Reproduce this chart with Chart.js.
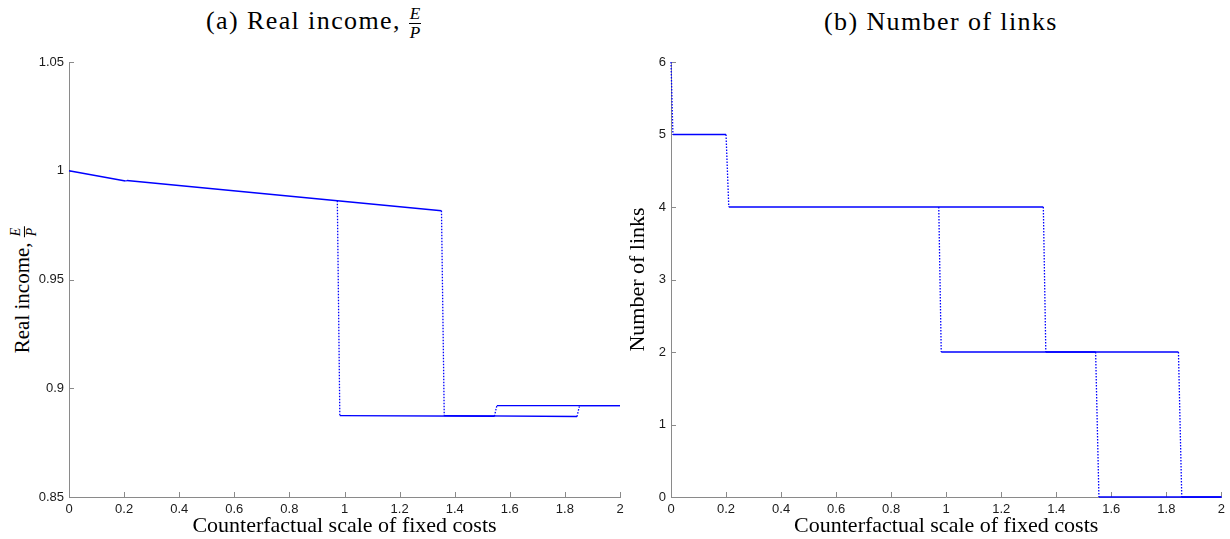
<!DOCTYPE html>
<html>
<head>
<meta charset="utf-8">
<script src="https://cdn.jsdelivr.net/npm/chart.js@4"></script>
<style>
  body { margin: 0; background: #fff; width: 1230px; height: 539px; position: relative; overflow: hidden; font-family: "Liberation Serif", serif; color: #000; }
  .title { position: absolute; top: 5px; font-size: 26px; letter-spacing: 1.4px; white-space: nowrap; }
  .frac { display: inline-flex; flex-direction: column; vertical-align: middle; font-style: italic; text-align: center; line-height: 1.05; font-size: 0.66em; letter-spacing: 0; }
  .frac span:first-child { border-bottom: 1px solid #000; padding: 0 1px; }
  .ytitle { position: absolute; left: 24px; top: 290px; font-size: 21px; white-space: nowrap; transform: translate(-50%, -50%) rotate(-90deg); }
  .box { position: absolute; top: 40px; height: 499px; }
</style>
</head>
<body>
<div class="title" style="left:206px">(a) Real income, <span class="frac"><span>E</span><span>P</span></span></div>
<div class="title" style="left:824px;top:7px">(b) Number of links</div>
<div class="ytitle">Real income, <span class="frac"><span>E</span><span>P</span></span></div>
<div class="box" style="left:0;width:640px"><canvas id="income"></canvas></div>
<div class="box" style="left:625px;width:605px"><canvas id="links"></canvas></div>
<script>
// panel (a): real income, two branches of the path
const incomeScaleA = [0, 0.205, 0.21, 0.974, 1.352, 1.362, 1.844, 1.853, 2];
const incomeA      = [1.0, 0.9953, 0.9955, 0.9862, 0.9816, 0.8874, 0.8870, 0.8920, 0.8920];
const incomeScaleB = [0.974, 0.983, 1.544, 1.553, 2];
const incomeB      = [0.9862, 0.8874, 0.8871, 0.8920, 0.8920];

// panel (b): number of links
const linksScaleA = [0, 0.007, 0.2, 0.21, 1.353, 1.362, 1.844, 1.856, 2];
const linksA      = [6, 5, 5, 4, 4, 2, 2, 0, 0];
const linksScaleB = [0.973, 0.982, 1.543, 1.555, 2];
const linksB      = [4, 2, 2, 0, 0];

const xTicks = [0, 0.2, 0.4, 0.6, 0.8, 1, 1.2, 1.4, 1.6, 1.8, 2];
const incomeTicks = [0.85, 0.9, 0.95, 1, 1.05];
const linksTicks = [0, 1, 2, 3, 4, 5, 6];

const blue = "#0000ff";
const axisGray = "#8a8a8a";
const tickFont = { family: "Liberation Sans", size: 13 };
const labelFont = { family: "Liberation Serif", size: 22 };

const pts = (xs, ys) => xs.map((x, i) => ({ x: x, y: ys[i] }));

// jumps (near vertical pieces) are dotted, the rest solid
const isJump = c => Math.abs(c.p1.parsed.x - c.p0.parsed.x) < 0.02;
const line = (xs, ys) => ({
    data: pts(xs, ys),
    borderColor: blue,
    borderWidth: 1.4,
    pointRadius: 0,
    clip: false,
    segment: {
        borderDash: c => isJump(c) ? [1.5, 1.5] : undefined,
        borderWidth: c => isJump(c) ? 1.3 : 1.4
    }
});

// MATLAB style ticks pointing into the plot
const inwardTicks = {
    id: "inwardTicks",
    beforeDatasetsDraw(chart) {
        const { ctx, chartArea: a, scales } = chart;
        ctx.save();
        ctx.strokeStyle = axisGray;
        ctx.lineWidth = 1;
        ctx.beginPath();
        scales.x.ticks.forEach(t => {
            const px = Math.round(scales.x.getPixelForValue(t.value)) + 0.5;
            ctx.moveTo(px, a.bottom);
            ctx.lineTo(px, a.bottom - 5);
        });
        scales.y.ticks.forEach(t => {
            const py = Math.round(scales.y.getPixelForValue(t.value)) + 0.5;
            ctx.moveTo(a.left, py);
            ctx.lineTo(a.left + 5, py);
        });
        ctx.stroke();
        ctx.restore();
    }
};

function makeChart(id, datasets, yTicks, yWidth, yTitle, padRight) {
    return new Chart(document.getElementById(id), {
        type: "line",
        data: { datasets: datasets },
        plugins: [inwardTicks],
        options: {
            responsive: true,
            maintainAspectRatio: false,
            animation: false,
            layout: { padding: { top: 22, left: 0, right: padRight, bottom: 0 } },
            plugins: { legend: { display: false }, tooltip: { enabled: false } },
            scales: {
                x: {
                    type: "linear",
                    min: 0, max: 2,
                    afterBuildTicks: s => { s.ticks = xTicks.map(v => ({ value: v })); },
                    afterFit: s => { s.height = 42; },
                    grid: { display: false, drawTicks: false },
                    border: { color: axisGray, width: 1 },
                    ticks: { font: tickFont, color: "#1a1a1a", padding: 5, maxRotation: 0, callback: v => String(v) },
                    title: { display: true, text: "Counterfactual scale of fixed costs", font: labelFont, color: "#000", padding: 0 }
                },
                y: {
                    type: "linear",
                    min: yTicks[0], max: yTicks[yTicks.length - 1],
                    afterBuildTicks: s => { s.ticks = yTicks.map(v => ({ value: v })); },
                    afterFit: s => { s.width = yWidth; },
                    grid: { display: false, drawTicks: false },
                    border: { color: axisGray, width: 1 },
                    ticks: { font: tickFont, color: "#1a1a1a", padding: 5, callback: v => String(v) },
                    title: { display: !!yTitle, text: yTitle, font: labelFont, color: "#000", padding: 0 }
                }
            }
        }
    });
}

makeChart("income", [line(incomeScaleA, incomeA), line(incomeScaleB, incomeB)], incomeTicks, 69, "", 20);
makeChart("links", [line(linksScaleA, linksA), line(linksScaleB, linksB)], linksTicks, 46, "Number of links", 8);
</script>
</body>
</html>
